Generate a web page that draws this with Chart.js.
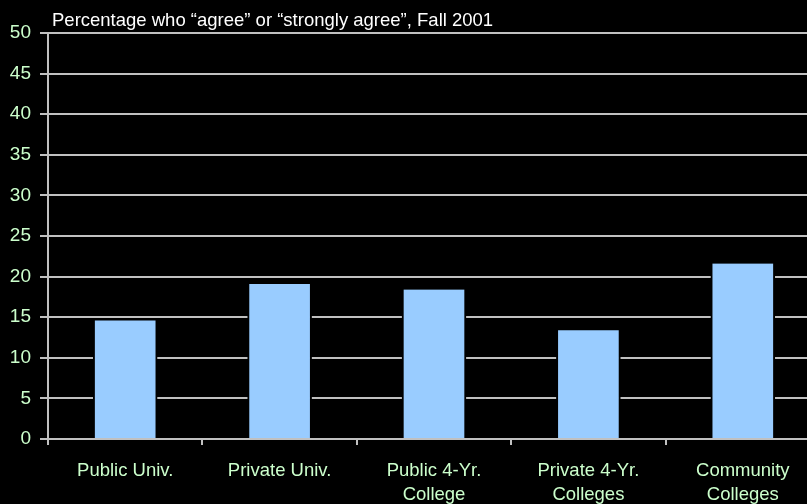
<!DOCTYPE html>
<html>
<head>
<meta charset="utf-8">
<script src="https://cdn.jsdelivr.net/npm/chart.js@4"></script>
<style>
  html, body { margin: 0; padding: 0; background: #000; overflow: hidden; width: 807px; height: 504px; }
  #wrap { width: 830px; height: 504px; }
</style>
</head>
<body>
<div id="wrap"><canvas id="c" width="830" height="504"></canvas></div>
<script>
const categories = [
  ["Public Univ."],
  ["Private Univ."],
  ["Public 4-Yr.", "College"],
  ["Private 4-Yr.", "Colleges"],
  ["Community", "Colleges"]
];
const agreePct = [14.6, 19.1, 18.4, 13.4, 21.6];
const yTicks = { min: 0, max: 50, step: 5 };
const titleText = "Percentage who \u201cagree\u201d or \u201cstrongly agree\u201d, Fall 2001";

const FONT = "'Liberation Sans', Arial, sans-serif";
const GRID = "#c0c0c0";
const LABEL = "#ccffcc";

const titlePlugin = {
  id: 'topTitle',
  afterDraw(chart) {
    const ctx = chart.ctx;
    ctx.save();
    ctx.font = "18.5px " + FONT;
    ctx.fillStyle = "#ffffff";
    ctx.textAlign = "left";
    ctx.textBaseline = "alphabetic";
    ctx.fillText(titleText, 52, 25.5);
    ctx.restore();
  }
};

new Chart(document.getElementById('c'), {
  type: 'bar',
  data: {
    labels: categories,
    datasets: [{
      data: agreePct,
      backgroundColor: '#99ccff',
      borderColor: '#000000',
      borderWidth: { left: 2, right: 2, top: 0, bottom: 0 },
      borderSkipped: false,
      barThickness: 64
    }]
  },
  options: {
    responsive: false,
    animation: false,
    devicePixelRatio: 1,
    layout: { padding: { top: 33, right: 10, left: 0, bottom: 0 } },
    plugins: { legend: { display: false }, tooltip: { enabled: false }, title: { display: false } },
    scales: {
      x: {
        grid: { offset: true, drawOnChartArea: false, drawTicks: true, tickLength: 6, color: GRID, lineWidth: 2 },
        border: { display: true, color: GRID, width: 2 },
        ticks: { color: LABEL, font: { family: FONT, size: 18.5, lineHeight: 1.3 }, padding: 14, maxRotation: 0, autoSkip: false },
        afterFit(scale) { scale.height = 65; }
      },
      y: {
        min: yTicks.min, max: yTicks.max,
        ticks: { stepSize: yTicks.step, color: LABEL, font: { family: FONT, size: 19 }, padding: 9 },
        grid: { color: GRID, lineWidth: 2, drawTicks: true, tickLength: 8 },
        border: { display: true, color: GRID, width: 2 },
        afterFit(scale) { scale.width = 48; }
      }
    }
  },
  plugins: [titlePlugin]
});
</script>
</body>
</html>
